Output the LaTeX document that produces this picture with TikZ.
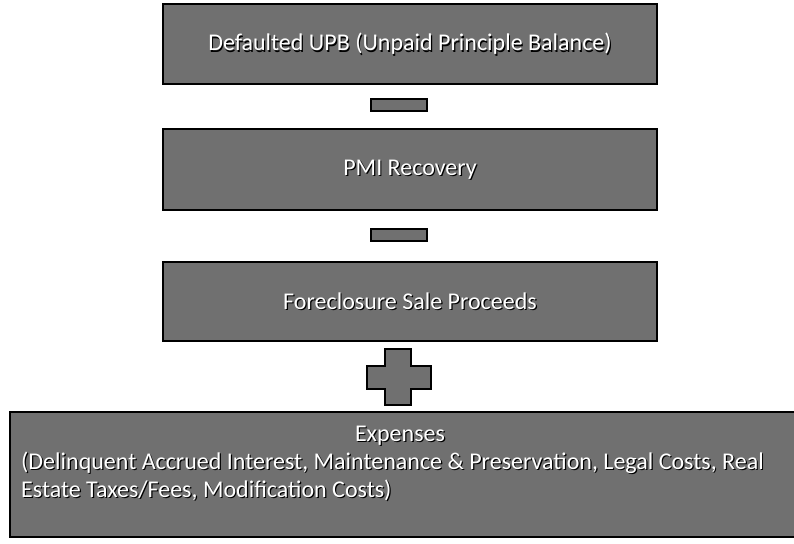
\documentclass[tikz,border=0pt]{standalone}
\usepackage{fontspec}
\setmainfont{Carlito}
\definecolor{boxgray}{RGB}{112,112,112}
\tikzset{
  box/.style={draw=black, line width=2pt, fill=boxgray, inner sep=0pt, anchor=center},
  sign/.style={draw=black, line width=1.6pt, fill=boxgray, inner sep=0pt},
  shadowtxt/.style={text=black, font=\fontsize{24}{28}\selectfont, inner sep=0pt},
  lighttxt/.style={text=white, font=\fontsize{24}{28}\selectfont, inner sep=0pt},
}
\newcommand{\shtext}[3]{%
  \node[shadowtxt, #1] at ([shift={(1.2pt,-1.2pt)}]#2) {#3};
  \node[lighttxt, #1] at (#2) {#3};}
\begin{document}
\begin{tikzpicture}[x=1pt,y=-1pt]
\useasboundingbox (0,0) rectangle (794,543);
\node[box, minimum width=494pt, minimum height=80pt] (b1) at (410,44) {};
\node[sign, minimum width=56pt, minimum height=12pt] (m1) at (399,105) {};
\node[box, minimum width=494pt, minimum height=81pt] (b2) at (410,169.5) {};
\node[sign, minimum width=56pt, minimum height=12pt] (m2) at (399,235) {};
\node[box, minimum width=494pt, minimum height=79pt] (b3) at (410,301.5) {};
\draw[sign] (385,349) -- (411,349) -- (411,366) -- (431,366) -- (431,389) -- (411,389)
  -- (411,405) -- (385,405) -- (385,389) -- (367,389) -- (367,366) -- (385,366) -- cycle;
\node[box, minimum width=790pt, minimum height=125pt] (b4) at (405,474.5) {};
\shtext{}{b1.center}{Defaulted UPB (Unpaid Principle Balance)}
\shtext{}{b2.center}{PMI Recovery}
\shtext{}{b3.center}{Foreclosure Sale Proceeds}
\shtext{}{400,436}{Expenses}
\shtext{anchor=west}{21,463}{(Delinquent Accrued Interest, Maintenance \& Preservation, Legal Costs, Real}
\shtext{anchor=west}{21,490}{Estate Taxes/Fees, Modification Costs)}
\end{tikzpicture}
\end{document}
